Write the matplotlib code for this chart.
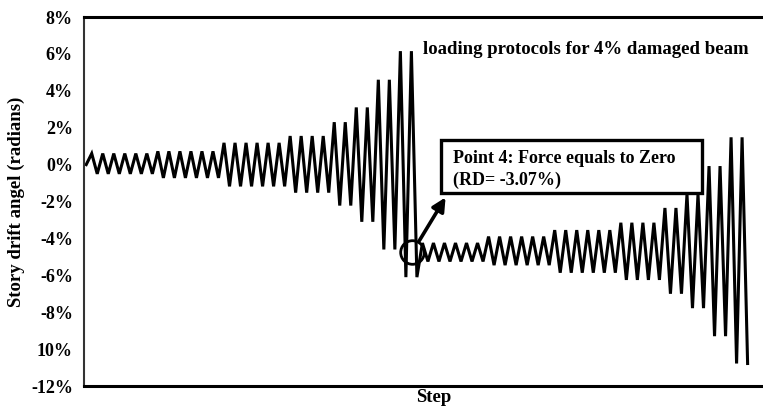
import numpy as np
import matplotlib
matplotlib.use("Agg")
import matplotlib.pyplot as plt
from matplotlib.patches import Rectangle

# loading protocol (story drift in %)
cycles = [6, 6, 6, 4, 2, 2, 2, 2]                                    # cycles per amplitude step
seg1_peak = [0.6, 0.72, 1.18, 1.55, 2.3, 3.1, 4.6, 6.15]              # undamaged protocol
seg1_trough = [-0.5, -0.72, -1.18, -1.52, -2.22, -3.1, -4.6, -6.1]
seg2_peak = [-4.25, -3.9, -3.55, -3.15, -2.35, -1.6, -0.08, 1.48]     # protocol after damage
seg2_trough = [-5.25, -5.45, -5.86, -6.25, -7.0, -7.78, -9.3, -10.78]
start_drift = 0.0

yticks = [8, 6, 4, 2, 0, -2, -4, -6, -8, -10, -12]
ytick_labels = ["8%", "6%", "4%", "2%", "0%", "-2%", "-4%", "-6%", "-8%", "10%", "-12%"]

point4_step = 59.2      # circled point where force is zero
point4_drift = -4.74

drift = [start_drift]
for peaks, troughs in [(seg1_peak, seg1_trough), (seg2_peak, seg2_trough)]:
    for n, p, t in zip(cycles, peaks, troughs):
        drift += [p, t] * n
drift = np.array(drift)
step = np.arange(len(drift))

plt.rcParams['font.family'] = ['Liberation Serif', 'DejaVu Serif']
plt.rcParams['font.weight'] = 'bold'

fig = plt.figure(figsize=(7.63, 4.16), dpi=100)
ax = fig.add_axes([0.1101, 0.0721, 0.9174, 0.887])    # right side runs off the picture

ax.plot(step, drift, color='black', lw=2.2, solid_joinstyle='miter', zorder=2)
ax.plot(point4_step, point4_drift, 'o', ms=17, mfc='none', mec='black', mew=2.0, zorder=3)

ax.set_xlim(-0.4, 126.6)
ax.set_ylim(-12, 8)
ax.set_yticks(yticks)
ax.set_yticklabels(ytick_labels, fontsize=13, fontweight='bold')
ax.set_xticks([])
ax.tick_params(axis='y', length=0, pad=8)

for side in ['top', 'bottom']:
    ax.spines[side].set_linewidth(2.2)
ax.spines['left'].set_linewidth(1.5)
ax.spines['left'].set_color('#333333')
ax.spines['right'].set_visible(False)

ax.set_ylabel("Story drift angel (radians)", fontsize=13.5, fontweight='bold')
ax.yaxis.set_label_coords(-0.084, 0.5)
ax.set_xlabel("Step", fontsize=13.5, fontweight='bold', labelpad=2)

ax.text(0.4839, 0.9125, "loading protocols for 4% damaged beam", transform=ax.transAxes,
        fontsize=13.5, fontweight='bold', ha='left', va='center')

# annotation box for point 4
ax.add_patch(Rectangle((0.51, 0.523), 0.373, 0.1437, transform=ax.transAxes,
                       facecolor='white', edgecolor='black', lw=2.4, zorder=4))
ax.text(0.527, 0.617, "Point 4: Force equals to Zero", transform=ax.transAxes,
        fontsize=13, fontweight='bold', ha='left', va='center', zorder=5)
ax.text(0.527, 0.558, "(RD= -3.07%)", transform=ax.transAxes,
        fontsize=13, fontweight='bold', ha='left', va='center', zorder=5)
ax.annotate("", xy=(0.5186, 0.5176), xytext=(0.477, 0.3875),
            xycoords='axes fraction', textcoords='axes fraction',
            arrowprops=dict(arrowstyle='-|>', color='black', lw=2.6, mutation_scale=20),
            zorder=5)

fig.savefig("out.png", dpi=100)
